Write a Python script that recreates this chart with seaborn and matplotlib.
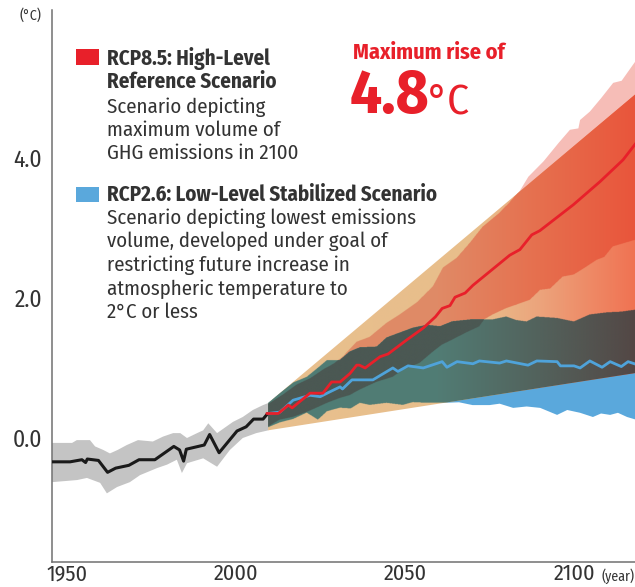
import numpy as np
import matplotlib.pyplot as plt
import seaborn as sns
from matplotlib.colors import LinearSegmentedColormap
from matplotlib.patches import Polygon, Rectangle
from matplotlib.path import Path

# ---- data (year, temperature anomaly in °C) ----
hist_years = [1945.6, 1950.9, 1954.4, 1955.5, 1956.0, 1959.3, 1962.0, 1964.4, 1968.3, 1971.3,
              1976.0, 1981.6, 1983.3, 1984.5, 1985.3, 1990.6, 1992.2, 1995.0, 2000.3, 2003.0,
              2005.2, 2008.0, 2009.4]
hist_temp = [-0.34, -0.34, -0.31, -0.35, -0.30, -0.32, -0.49, -0.43, -0.39, -0.31,
             -0.31, -0.12, -0.17, -0.33, -0.16, -0.10, 0.05, -0.21, 0.10, 0.16,
             0.27, 0.27, 0.35]

hist_hi_years = [1945.6, 1951.5, 1952.9, 1956.8, 1958.3, 1960.7, 1962.7, 1965.0, 1967.7, 1971.0,
                 1975.4, 1978.4, 1981.4, 1983.5, 1985.5, 1988.5, 1990.3, 1991.8, 1994.4, 1999.1,
                 2002.0, 2005.0, 2008.0, 2009.6]
hist_hi = [-0.07, -0.07, -0.03, -0.03, -0.12, -0.17, -0.22, -0.17, -0.10, -0.03,
           -0.05, 0.02, 0.07, 0.07, 0.00, 0.07, 0.11, 0.21, 0.07, 0.23,
           0.30, 0.40, 0.47, 0.50]
hist_lo_years = [1945.6, 1953.0, 1955.9, 1959.8, 1961.8, 1964.8, 1968.6, 1971.6, 1976.6, 1979.6,
                 1982.5, 1984.0, 1985.5, 1990.3, 1994.4, 1998.2, 2002.0, 2006.0, 2009.6]
hist_lo = [-0.63, -0.60, -0.57, -0.64, -0.79, -0.70, -0.63, -0.53, -0.43, -0.38,
           -0.31, -0.50, -0.36, -0.29, -0.41, -0.17, 0.00, 0.07, 0.11]

# likely-range fan (straight edges)
fan_years = [2009.5, 2118.5]
fan_top = [0.50, 4.92]
fan_bot = [0.11, 0.93]

# RCP8.5 range
r85_hi_years = [2009.5, 2014, 2018, 2022, 2026, 2029, 2031.7, 2035.7, 2039.6, 2044.6,
                2048.5, 2053.5, 2058.3, 2061.3, 2065.4, 2069.2, 2073, 2078, 2081, 2084,
                2086.5, 2091, 2095.4, 2098.8, 2101.3, 2101.8, 2104.7, 2108, 2111.6, 2114.1, 2118.5]
r85_hi = [0.48, 0.62, 0.76, 0.85, 0.98, 1.06, 1.16, 1.37, 1.44, 1.64,
          1.76, 1.93, 2.16, 2.43, 2.57, 2.78, 3.01, 3.21, 3.36, 3.53,
          3.73, 3.95, 4.21, 4.40, 4.42, 4.54, 4.66, 4.85, 5.07, 5.10, 5.40]
r85_lo_years = [2009.5, 2013, 2017, 2021, 2024.3, 2027, 2030.8, 2033.7, 2036.7, 2041.7,
                2046.4, 2049.4, 2054.4, 2058.3, 2061, 2064, 2068, 2072, 2073.5, 2076,
                2080, 2083, 2087, 2090, 2093, 2096.7, 2100, 2103, 2106.8, 2109,
                2111.5, 2115, 2118.5]
r85_lo = [0.16, 0.26, 0.30, 0.37, 0.44, 0.50, 0.57, 0.61, 0.69, 0.80,
          0.87, 0.97, 1.07, 1.23, 1.33, 1.40, 1.50, 1.59, 1.69, 1.76,
          1.85, 1.90, 1.97, 2.11, 2.13, 2.30, 2.33, 2.42, 2.54, 2.58,
          2.73, 2.78, 2.83]

# RCP2.6 range
r26_hi_years = [2009.5, 2013, 2017, 2021, 2024.3, 2027, 2030.8, 2033.7, 2036.7, 2041.7,
                2044.6, 2048.5, 2052.4, 2056.5, 2060.4, 2064, 2070, 2076, 2080, 2083,
                2086, 2089, 2095, 2100, 2104.7, 2109.8, 2114, 2118.5]
r26_hi = [0.50, 0.64, 0.79, 0.87, 1.00, 1.11, 1.11, 1.23, 1.29, 1.30,
          1.43, 1.50, 1.57, 1.61, 1.59, 1.66, 1.69, 1.69, 1.73, 1.68,
          1.66, 1.73, 1.71, 1.66, 1.76, 1.79, 1.80, 1.83]
r26_lo_years = [2009.5, 2013, 2017, 2021, 2024.3, 2027, 2030.8, 2034, 2036.7, 2039.6,
                2044.6, 2049.4, 2052.4, 2056.5, 2060.4, 2066, 2070, 2075, 2078, 2082,
                2086, 2090, 2095, 2098, 2101.8, 2105.6, 2108, 2110.7, 2113, 2115.7, 2118.5]
r26_lo = [0.15, 0.22, 0.27, 0.36, 0.26, 0.38, 0.43, 0.42, 0.50, 0.47,
          0.50, 0.47, 0.51, 0.50, 0.50, 0.51, 0.47, 0.47, 0.49, 0.43,
          0.45, 0.43, 0.33, 0.40, 0.36, 0.30, 0.35, 0.33, 0.36, 0.30, 0.26]

# scenario means
rcp85_years = [2009.1, 2012.5, 2015.5, 2016.6, 2021.9, 2025.7, 2028.3, 2030.8, 2033.7, 2035.7,
               2036.5, 2038.2, 2042.6, 2045.0, 2050.5, 2055.4, 2059.0, 2061.0, 2063.3, 2064.8,
               2067.8, 2070.1, 2081.0, 2084.0, 2087.5, 2089.9, 2099.8, 2107.7, 2114.5, 2118.5]
rcp85_temp = [0.35, 0.35, 0.47, 0.43, 0.64, 0.64, 0.80, 0.80, 0.92, 1.04,
              1.04, 1.00, 1.16, 1.20, 1.40, 1.57, 1.73, 1.85, 1.89, 2.01,
              2.07, 2.18, 2.61, 2.69, 2.90, 2.96, 3.33, 3.66, 3.97, 4.22]
rcp26_years = [2009.5, 2013.0, 2016.9, 2021.9, 2024.9, 2027.8, 2030.8, 2031.5, 2034.3, 2040.5,
               2046.4, 2047.9, 2050.9, 2055.4, 2061.0, 2062.4, 2065.4, 2070.1, 2072.0, 2078.0,
               2080.0, 2086.4, 2089.0, 2095.0, 2096.0, 2100.0, 2101.8, 2104.7, 2108.3, 2110.7,
               2114.0, 2116.0, 2118.5]
rcp26_temp = [0.35, 0.37, 0.54, 0.61, 0.59, 0.66, 0.73, 0.70, 0.83, 0.83,
              1.00, 0.95, 1.03, 1.00, 1.09, 1.01, 1.09, 1.06, 1.10, 1.07,
              1.10, 1.04, 1.10, 1.09, 1.03, 1.03, 1.00, 1.10, 1.01, 1.09,
              1.02, 1.09, 1.05]

x_ticks = [1950, 2000, 2050, 2100]
y_ticks = [0.0, 2.0, 4.0]

# ---- colours ----
RED = '#E8202A'
BLUE = '#5AA8DC'
TEXT = '#333333'
fan_stops = [(2009, '#E8C08E'), (2072, '#E8BE8B'), (2090, '#ECA47C'), (2118.5, '#F07252')]
orange_stops = [(2009, '#DF8C67'), (2060, '#E08A66'), (2090, '#E66F4E'), (2118.5, '#E9553B')]
teal_stops = [(2009, '#4F7D75'), (2060, '#517C74'), (2090, '#53625C'), (2118.5, '#534745')]
overlap_stops = [(2009, '#4B5853'), (2118.5, '#4B5853')]

sns.set_theme(style='white')
plt.rcParams['font.family'] = ['Fira Sans Condensed', 'Asap Condensed', 'DejaVu Sans']

W, H = 635, 587
fig = plt.figure(figsize=(W / 100, H / 100), dpi=100)
ax = fig.add_axes([52 / W, (H - 562) / H, (W - 52) / W, (562 - 10) / H])


def band_path(xu, yu, xl, yl):
    xs = np.r_[xu, xl[::-1]]
    ys = np.r_[yu, yl[::-1]]
    return Path(np.column_stack([xs, ys]), closed=False)


fan_path = band_path(fan_years, fan_top, fan_years, fan_bot)
r85_path = band_path(r85_hi_years, r85_hi, r85_lo_years, r85_lo)
r26_path = band_path(r26_hi_years, r26_hi, r26_lo_years, r26_lo)

# raster grid for the gradient layers
gx = np.linspace(2009, 2118.5, 1100)
gy = np.linspace(0.0, 5.6, 1100)
GX, GY = np.meshgrid(gx, gy)
pts = np.column_stack([GX.ravel(), GY.ravel()])
in_r85 = r85_path.contains_points(pts).reshape(GX.shape)
in_r26 = r26_path.contains_points(pts).reshape(GX.shape)


def gradient_layer(stops, mask, z):
    span = gx[-1] - gx[0]
    cmap = LinearSegmentedColormap.from_list('g', [((yr - gx[0]) / span, c) for yr, c in stops])
    rgba = cmap((GX - gx[0]) / span)
    rgba[..., 3] = mask.astype(float)
    im = ax.imshow(rgba, extent=[gx[0], gx[-1], gy[0], gy[-1]], origin='lower',
                   aspect='auto', interpolation='antialiased', zorder=z)
    im.set_clip_path(fan_path, ax.transData)


# historical range
ax.add_patch(Polygon(np.column_stack([np.r_[hist_hi_years, hist_lo_years[::-1]],
                                      np.r_[hist_hi, hist_lo[::-1]]]),
                     closed=True, fc='#C4C4C4', ec='none', zorder=2))

# full scenario ranges (visible outside the fan)
ax.add_patch(Polygon(r85_path.vertices, closed=True, fc='#F6BDB7', ec='none', zorder=2))
ax.add_patch(Polygon(r26_path.vertices, closed=True, fc=BLUE, ec='none', zorder=2))

# inside the fan
gradient_layer(fan_stops, np.ones_like(GX, dtype=bool), 3)
gradient_layer(orange_stops, in_r85, 4)
gradient_layer(teal_stops, in_r26, 4)
gradient_layer(overlap_stops, in_r85 & in_r26, 5)

# lines
sns.lineplot(x=hist_years, y=hist_temp, color='#1A1A1A', lw=2.2, estimator=None, ax=ax, zorder=6)
sns.lineplot(x=rcp26_years, y=rcp26_temp, color='#4FA3DA', lw=2.0, estimator=None, ax=ax, zorder=6)
sns.lineplot(x=rcp85_years, y=rcp85_temp, color=RED, lw=2.0, estimator=None, ax=ax, zorder=7)

ax.set_xlim(1945.56, 2118.05)
ax.set_ylim(-1.77, 6.11)
ax.set_xticks(x_ticks)
ax.set_xticklabels([str(t) for t in x_ticks], fontsize=16, color=TEXT)
ax.set_yticks(y_ticks)
ax.set_yticklabels([f'{t:.1f}' for t in y_ticks], fontsize=17, color=TEXT)
ax.tick_params(length=0)
ax.tick_params(axis='y', pad=7)
ax.tick_params(axis='x', pad=1)
ax.set_xlabel('')
ax.set_ylabel('')
for s in ['top', 'right']:
    ax.spines[s].set_visible(False)
for s in ['left', 'bottom']:
    ax.spines[s].set_color('#707070')
    ax.spines[s].set_linewidth(1.1)


def ftext(x, y, s, **kw):
    fig.text(x / W, 1 - y / H, s, **kw)


ftext(20, 15, '(°C)', fontsize=10, color=TEXT, va='center', ha='left')
ftext(601, 576, '(year)', fontsize=10, color=TEXT, va='center', ha='left')

# legend blocks
fig.add_artist(Rectangle((76 / W, 1 - 65 / H), 23 / W, 16 / H, transform=fig.transFigure,
                         fc=RED, ec='none'))
fig.add_artist(Rectangle((76 / W, 1 - 202 / H), 23 / W, 15 / H, transform=fig.transFigure,
                         fc=BLUE, ec='none'))
ftext(107, 58, 'RCP8.5: High-Level', fontsize=15, weight='bold', color=TEXT, va='center')
ftext(107, 82, 'Reference Scenario', fontsize=15, weight='bold', color=TEXT, va='center')
for i, line in enumerate(['Scenario depicting', 'maximum volume of', 'GHG emissions in 2100']):
    ftext(107, 107 + 23.3 * i, line, fontsize=15, color=TEXT, va='center')

ftext(107, 195, 'RCP2.6: Low-Level Stabilized Scenario', fontsize=15, weight='bold',
      color=TEXT, va='center')
for i, line in enumerate(['Scenario depicting lowest emissions',
                          'volume, developed under goal of',
                          'restricting future increase in',
                          'atmospheric temperature to',
                          '2°C or less']):
    ftext(107, 218 + 23.6 * i, line, fontsize=15, color=TEXT, va='center')

ftext(353, 53, 'Maximum rise of', fontsize=16, weight='bold', color=RED, va='center')
ftext(350, 113, '4.8', fontsize=45, weight='bold', color=RED, va='baseline')
ftext(428, 113, '°C', fontsize=31, color=RED, va='baseline')

fig.savefig('out.png', dpi=100)
